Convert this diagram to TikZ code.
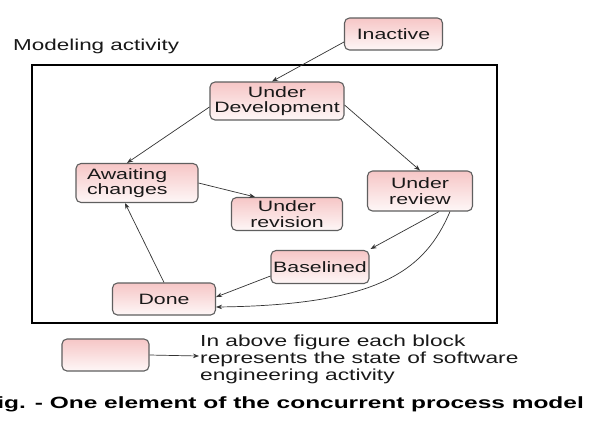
\documentclass[tikz,border=0pt]{standalone}
\usepackage{fontspec}
\setmainfont{Liberation Sans}[FakeStretch=1.42]
\newfontfamily\capfont{Liberation Sans}[FakeStretch=1.5]
\usetikzlibrary{arrows.meta,calc}
\definecolor{boxtop}{RGB}{246,198,198}
\definecolor{boxbot}{RGB}{254,247,247}
\definecolor{boxline}{RGB}{95,95,95}
\begin{document}
\begin{tikzpicture}[x=1pt,y=-1pt,
  state/.style={draw=boxline, line width=1.1pt, rounded corners=5pt,
    top color=boxtop, bottom color=boxbot, inner sep=0pt, align=center,
    font=\fontsize{15}{15.5}\selectfont, text=black!90},
  conn/.style={draw=black!80, line width=0.7pt, -{Stealth[length=6pt,width=4.5pt]}}]
\useasboundingbox (0,0) rectangle (593,429);
\clip (0,0) rectangle (593,429);
\fill[white] (0,0) rectangle (593,429);
% frame
\node[draw, line width=2.8pt, minimum width=465pt, minimum height=258pt, inner sep=0pt] (frame) at (264.5,194) {};
\node[anchor=base west, inner sep=0pt, font=\fontsize{15.8}{16}\selectfont, text=black!90] (mlabel) at (13,50) {Modeling activity};
% states
\node[state, minimum width=98pt, minimum height=32pt] (inact) at (393.5,34) {Inactive};
\node[state, minimum width=134pt, minimum height=38pt] (ud) at (277,101) {Under\\Development};
\node[state, minimum width=122pt, minimum height=39pt, align=left, text width=100pt] (await) at (137,183) {Awaiting\\changes};
\node[state, minimum width=111pt, minimum height=33pt] (revis) at (287,214) {Under\\revision};
\node[state, minimum width=105pt, minimum height=40pt] (review) at (420,191) {Under\\review};
\node[state, minimum width=98pt, minimum height=33pt] (base) at (320,267) {Baselined};
\node[state, minimum width=103pt, minimum height=32pt] (done) at (164,299) {Done};
% connectors
\draw[conn] ([yshift=-8pt]inact.west) -- ([xshift=-5pt]ud.north);
\draw[conn] ([yshift=-6pt]ud.west) -- ([xshift=-10pt]await.north);
\draw[conn] ([yshift=-4pt]ud.east) -- (review.north);
\draw[conn] (await.east) -- ([xshift=-32pt]revis.north);
\draw[conn] (done.north) -- ([xshift=-12pt]await.south);
\draw[conn] ([xshift=19pt]review.south) -- ([xshift=1pt,yshift=1pt]base.north east);
\draw[conn] ([yshift=-9pt]base.west) -- ([yshift=2pt]done.east);
\draw[conn] ([xshift=30pt]review.south) .. controls (425,270) and (380,305) .. ([yshift=-8pt]done.east);
% legend
\node[state, minimum width=87pt, minimum height=32pt] (legbox) at (105.5,355) {};
\node[anchor=north west, inner sep=0pt, align=left, font=\fontsize{16}{17}\selectfont, text=black!90] (legtext) at (200,335) {In above figure each block\\represents the state of software\\engineering activity};
\coordinate (legtip) at (199,356);
\draw[conn] (legbox.east) -- (legtip);
% caption
\node[anchor=base east, inner sep=0pt, font=\capfont\bfseries\fontsize{16.3}{17}\selectfont] (cap) at (584,408) {Fig. - One element of the concurrent process model};
\end{tikzpicture}
\end{document}
